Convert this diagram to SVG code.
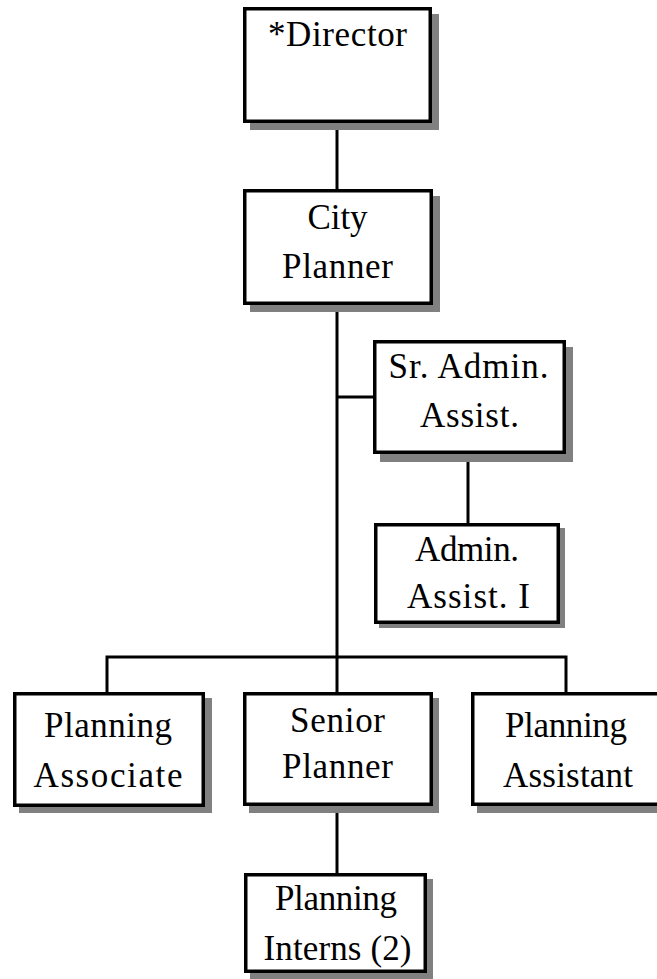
<svg xmlns="http://www.w3.org/2000/svg" width="657" height="979" viewBox="0 0 657 979">
  <style>
    .box { fill: #ffffff; stroke: #000000; stroke-width: 3.5; }
    .shadow { fill: #808080; }
    .lbl { font-family: 'Liberation Serif', 'DejaVu Serif', serif; font-size: 35px; fill: #000000; text-anchor: middle; }
    .wire { fill: none; stroke: #000000; stroke-width: 3; }
  </style>
  <rect x="0" y="0" width="657" height="979" fill="#ffffff"/>

  <!-- reporting lines -->
  <g id="connectors">
    <line class="wire" x1="337" y1="122" x2="337" y2="191"/>
    <line class="wire" x1="337" y1="303" x2="337" y2="694"/>
    <line class="wire" x1="337" y1="397" x2="375" y2="397"/>
    <line class="wire" x1="468" y1="452" x2="468" y2="525"/>
    <polyline class="wire" points="107,694 107,657 566,657 566,694"/>
    <line class="wire" x1="337" y1="804" x2="337" y2="875"/>
  </g>

  <g id="director">
    <rect class="shadow" x="250" y="14" width="189" height="116"/>
    <rect class="box" x="244.75" y="8.75" width="185.5" height="112.5"/>
    <text class="lbl" x="337.5" y="46" textLength="139">*Director</text>
  </g>

  <g id="city-planner">
    <rect class="shadow" x="250" y="196" width="190" height="116"/>
    <rect class="box" x="244.75" y="190.75" width="186.5" height="112.5"/>
    <text class="lbl" x="337.5" y="229" textLength="60">City</text>
    <text class="lbl" x="337.5" y="278" textLength="111">Planner</text>
  </g>

  <g id="sr-admin-assist">
    <rect class="shadow" x="380" y="347" width="193" height="115"/>
    <rect class="box" x="374.75" y="341.75" width="189.5" height="110.5"/>
    <text class="lbl" x="468.5" y="378" textLength="160">Sr. Admin.</text>
    <text class="lbl" x="469.5" y="427" textLength="99">Assist.</text>
  </g>

  <g id="admin-assist-i">
    <rect class="shadow" x="379" y="528" width="186" height="100"/>
    <rect class="box" x="375.75" y="524.75" width="182.5" height="97.5"/>
    <text class="lbl" x="467" y="561" textLength="104">Admin.</text>
    <text class="lbl" x="468.5" y="608" textLength="123">Assist. I</text>
  </g>

  <g id="planning-associate">
    <rect class="shadow" x="19" y="698" width="193" height="115"/>
    <rect class="box" x="14.75" y="693.75" width="188.5" height="111.5"/>
    <text class="lbl" x="108" y="737" textLength="128">Planning</text>
    <text class="lbl" x="108" y="787" textLength="149">Associate</text>
  </g>

  <g id="senior-planner">
    <rect class="shadow" x="249" y="698" width="190" height="115"/>
    <rect class="box" x="244.75" y="693.75" width="186.5" height="110.5"/>
    <text class="lbl" x="337.5" y="732" textLength="95">Senior</text>
    <text class="lbl" x="337.5" y="778" textLength="111">Planner</text>
  </g>

  <g id="planning-assistant">
    <rect class="shadow" x="477" y="698" width="200" height="115"/>
    <rect class="box" x="472.75" y="693.75" width="190" height="110.5"/>
    <text class="lbl" x="566" y="737" textLength="122">Planning</text>
    <text class="lbl" x="568" y="787" textLength="130">Assistant</text>
  </g>

  <g id="planning-interns">
    <rect class="shadow" x="250" y="879" width="183" height="100"/>
    <rect class="box" x="245.75" y="874.75" width="179.5" height="96.5"/>
    <text class="lbl" x="336" y="910" textLength="122">Planning</text>
    <text class="lbl" x="337.5" y="960" textLength="148">Interns (2)</text>
  </g>
</svg>
